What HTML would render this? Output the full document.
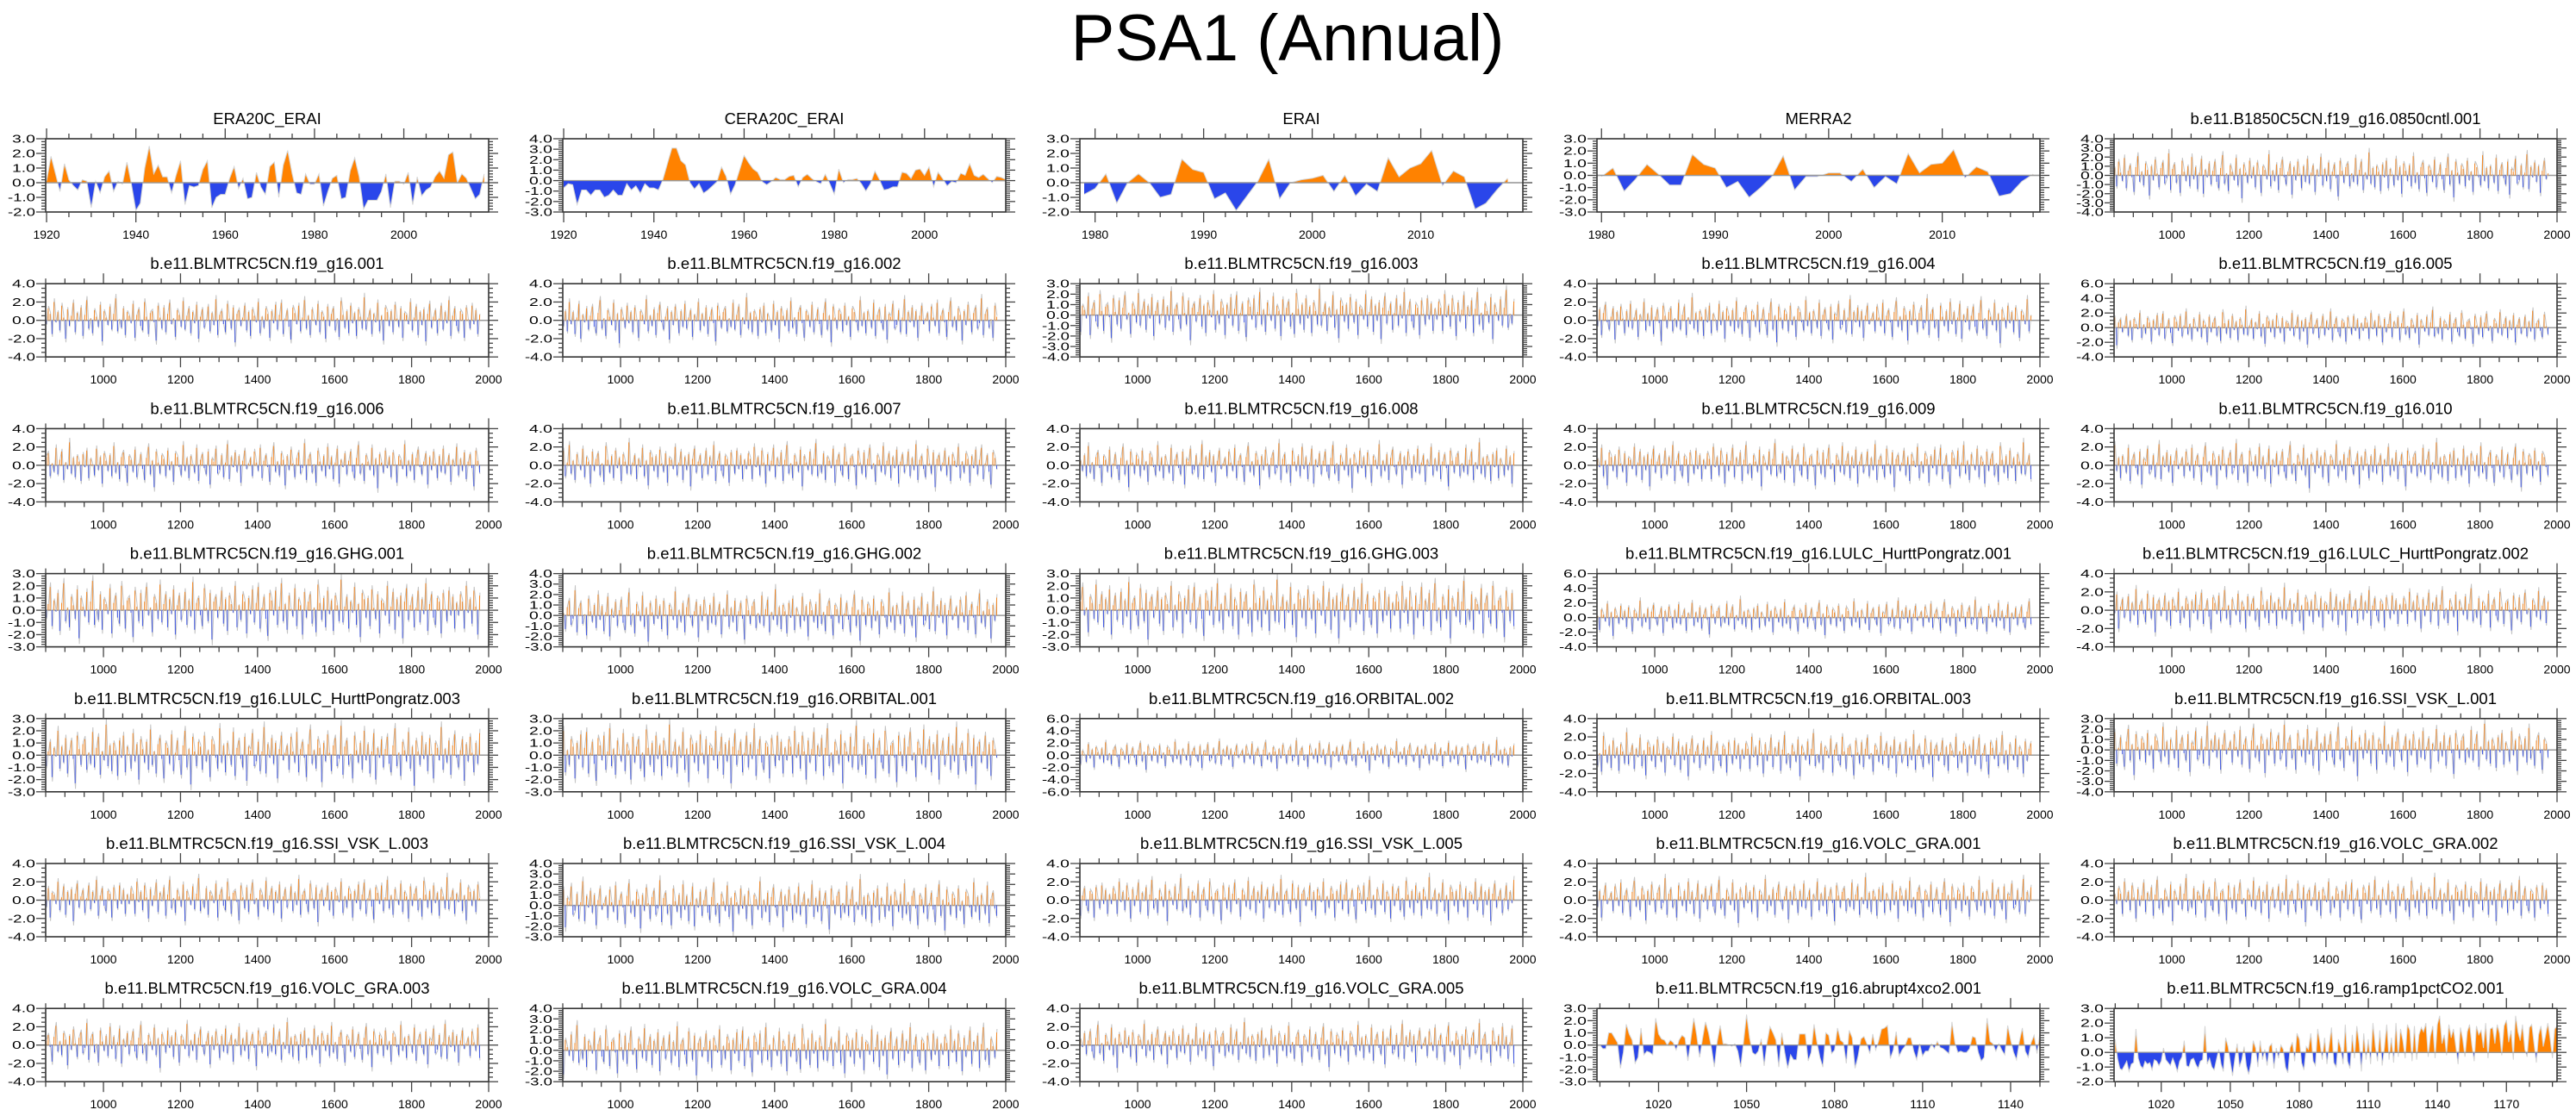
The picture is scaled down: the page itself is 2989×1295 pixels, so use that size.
<!DOCTYPE html>
<html><head><meta charset="utf-8"><title>PSA1 (Annual)</title>
<style>
html,body{margin:0;padding:0;background:#fff;}
svg{display:block;font-family:"Liberation Sans",Arial,sans-serif;}
</style></head>
<body>
<svg id="chart" width="2989" height="1295" viewBox="0 0 2989 1295" xmlns="http://www.w3.org/2000/svg">
<rect width="2989" height="1295" fill="#fff"/>
<text x="1494" y="70" font-size="76" text-anchor="middle" fill="#000">PSA1 (Annual)</text>
</svg>
<script>
// ---------- data ----------
const era20cValues=[0.1,1.8,0.6,-0.6,1.3,0.2,-0.2,-0.5,0.2,0.1,-1.7,0.1,-0.7,0.4,0.8,-0.6,0.1,-0.1,1.4,-0.1,-1.9,-1.4,1.0,2.5,0.6,1.2,0.4,0.4,-0.7,0.5,1.5,-1.5,-0.2,-0.3,-0.2,0.9,1.5,-1.7,-1.0,-0.8,-0.8,0.3,1.1,-0.4,0.3,-1.1,-1.0,0.7,-0.3,-0.8,1.1,1.4,-1.0,1.2,2.2,0.6,-0.7,-0.8,0.6,-0.1,-0.1,0.6,-1.6,-0.6,0.3,0.5,-1.1,-1.0,0.8,1.7,0.4,-1.8,-1.2,-1.2,-1.2,-0.6,0.6,-1.7,0.1,0.1,-0.1,0.7,-1.5,0.4,-0.9,-0.5,-0.3,0.4,0.8,0.3,1.9,2.1,0.0,0.6,0.3,-0.4,-1.1,-0.8,0.6];
const cera20cValues=[-0.7,-0.3,-0.4,-2.3,-0.9,-0.9,-1.4,-0.9,-0.9,-1.6,-1.4,-0.9,-1.4,-1.4,-0.3,-0.9,-0.5,-1.2,-0.3,-0.7,-0.7,-0.9,0.1,1.6,3.1,3.1,1.9,1.5,-0.2,-0.8,-0.3,-1.2,-0.9,-0.5,-0.1,1.3,0.4,-1.3,-0.4,1.0,2.4,1.7,1.1,0.8,-0.1,-0.4,-0.1,0.3,0.1,0.1,0.4,0.5,-0.6,0.3,0.6,0.2,-0.1,-0.3,0.6,-0.3,-1.3,1.1,-0.2,0.1,0.1,0.2,-0.3,-1.0,-0.3,0.9,0.1,-0.9,-0.8,-0.6,-0.6,0.8,0.7,0.2,1.0,1.1,0.5,1.3,-0.6,0.8,0.2,-0.5,-0.1,-0.2,0.7,0.5,1.6,0.5,0.3,0.6,0.2,-0.2,0.4,0.3,0.1];
const eraiValues=[-0.8,-0.4,0.6,-1.4,0.0,0.6,0.0,-1.0,-0.8,1.6,0.9,0.7,-1.1,-0.7,-1.9,-0.9,0.1,1.6,-1.1,0.0,0.2,0.3,0.5,-0.6,0.5,-0.9,-0.1,-0.6,1.7,0.4,1.0,1.3,2.2,-0.2,0.8,0.4,-1.8,-1.4,-0.5,0.3];
const merra2Values=[-0.1,0.6,-1.3,-0.3,0.9,0.1,-0.8,-0.8,1.7,0.9,0.6,-1.0,-0.5,-1.8,-1.0,-0.1,1.6,-1.2,-0.1,-0.1,0.2,0.2,-0.5,0.5,-1.0,-0.1,-0.7,1.8,0.2,0.9,1.0,2.1,-0.2,0.7,0.3,-1.7,-1.5,-0.5,0.1];
const abruptValues=[0.0,-0.3,-0.3,1.0,1.0,0.6,0.2,-1.9,-0.6,1.7,0.9,0.4,-1.5,-1.0,1.4,-0.8,-0.5,-0.6,-0.8,2.2,0.9,0.5,0.4,0.0,0.4,0.2,-0.4,0.4,0.8,0.6,-1.3,0.4,2.2,0.8,-1.0,0.5,1.9,1.0,-0.2,-1.8,0.3,1.6,0.1,0.1,0.0,-0.1,0.1,-0.5,-1.8,0.3,2.5,0.6,-0.6,-0.8,-0.5,0.5,-1.7,0.2,1.5,1.0,0.4,-1.8,1.0,-0.6,-1.9,-0.8,-1.2,-1.2,0.9,0.9,0.9,-1.3,-0.6,1.7,0.2,-1.0,-1.8,1.0,0.8,-0.7,-0.4,1.4,0.4,0.2,-1.5,1.2,0.6,-1.9,-0.9,0.5,0.7,0.1,-0.7,0.9,-0.4,0.3,1.3,1.4,1.6,-1.1,-0.4,1.1,-0.9,-0.4,-0.1,0.6,0.6,-0.5,-1.2,0.1,-0.9,-0.5,-0.5,0.1,-0.3,0.3,-0.2,-0.3,-0.5,-0.7,1.9,0.2,-0.6,-0.5,-0.6,-0.6,-0.3,0.7,0.6,-0.6,-1.3,-1.0,2.2,0.3,0.1,-0.5,0.1,-0.4,-0.8,1.6,0.4,-0.6,-1.2,0.3,1.4,-0.5,-1.0,0.2,0.8,-0.7,1.0];
const rampValues=[0.9,-0.4,-1.1,-1.2,-0.9,-0.6,-1.3,-0.8,-0.7,1.6,-0.4,-0.9,-1.1,-0.6,-0.8,-0.7,-1.2,-0.5,-0.6,-0.9,-0.6,0.3,-0.5,-0.7,-0.9,-0.4,-0.8,-1.3,-0.6,-0.3,0.8,-0.9,-1.0,-0.5,-0.4,-0.8,-1.1,-0.6,-0.5,1.8,-0.8,-0.4,-1.0,-1.2,-0.5,0.2,-0.8,-1.3,1.0,0.4,-0.6,-1.6,-0.4,0.6,-1.0,-0.5,0.4,-0.9,-1.5,-0.7,0.8,0.3,-1.0,0.8,-0.5,0.2,-0.9,0.4,0.6,-1.1,0.3,-0.4,0.5,0.2,-1.0,-1.4,0.3,0.7,-0.6,1.3,0.9,-0.7,-1.2,0.4,0.2,1.3,-0.6,-0.9,1.6,0.6,-0.5,1.0,-0.8,0.5,1.7,-0.7,-1.0,0.9,0.3,-0.8,1.9,-0.6,-1.1,1.2,-0.4,1.8,0.6,-1.3,1.3,-0.5,0.9,-0.8,2.0,0.4,-0.6,1.5,-0.9,0.3,1.9,-0.5,1.0,-0.7,2.0,-0.3,1.6,0.8,-0.4,1.9,1.5,-0.6,1.8,-0.5,1.2,1.7,1.4,2.0,-0.3,1.1,1.8,-0.4,1.9,2.5,0.6,1.2,-0.2,1.9,1.0,1.6,0.4,-0.8,1.7,0.9,-0.3,1.4,1.9,0.5,-0.6,1.8,1.2,1.5,0.3,2.0,-0.4,1.6,1.7,0.6,1.9,1.3,-0.2,1.8,2.2,0.7,1.5,-0.5,2.5,1.4,0.8,1.9,0.2,-0.3,1.7,1.9,0.6,-0.7,1.2,1.8,0.4,1.1,2.0,0.9,-0.4,1.6,1.8,0.5];
const denseA=[0.8,-1.2,1.5,0.3,-0.6,1.9,-1.4,0.5,1.1,-0.2,-1.8,0.9,2.1,-0.7,0.4,-1.1,1.3,0.6,-2.2,1.0,
-0.5,1.7,0.2,-1.3,0.8,1.4,-0.9,-0.3,2.4,-1.6,0.7,1.2,-0.8,0.1,-1.9,1.6,0.4,-0.6,1.0,-1.2,
2.0,-0.4,0.9,-1.5,0.3,1.8,-2.0,0.6,-0.2,1.3,-1.0,0.5,1.5,-0.7,-1.4,0.8,2.2,-0.9,0.2,-1.7,
1.1,0.4,-0.5,1.9,-1.1,0.7,-2.5,1.2,0.3,-0.8,1.6,-0.3,0.9,-1.3,1.4,0.1,-1.9,1.0,0.6,-0.4,
2.3,-1.2,0.5,-0.6,1.2,-1.6,0.8,1.7,-0.2,-1.0,0.4,1.3,-2.1,0.9,-0.5,1.5,0.2,-1.4,1.0,-0.7,
1.8,-0.9,0.3,1.1,-1.8,0.6,-0.1,2.0,-1.1,0.7,-0.6,1.4,-1.5,0.4,1.2,-0.3,-2.3,1.6,0.5,-0.8,
0.9,1.3,-1.2,0.2,-0.7,1.9,-1.0,0.6,1.5,-1.6,0.3,-0.4,2.5,-0.9,0.8,-1.3,1.0,0.4,-1.7,1.2,
-0.2,1.6,-1.4,0.7,0.1,-1.1,1.8,-0.5,0.9,-2.0,1.3,0.5,-0.6,1.1,-1.2,2.1,-0.8,0.3,-1.5,0.9,
1.4,-0.3,-1.9,1.0,0.6,-0.7,1.7,-1.3,0.2,1.2,-0.4,-1.6,0.8,2.0,-1.0,0.5,-2.4,1.5,0.3,-0.9,
1.1,0.7,-1.2,1.6,-0.5,0.4,-1.8,1.3,0.9,-0.2,-1.1,2.2,-0.6,0.8,-1.4,1.0,0.1,-0.8,1.9,-1.7,
0.6,1.2,-0.3,-1.0,1.5,-2.1,0.7,0.4,1.8,-0.9,-0.5,1.1,-1.3,0.3,2.3,-1.5,0.9,-0.2,1.4,-0.7,
1.0,-1.9,0.5,1.6,-0.4,0.2];
const denseB=[-0.4,1.3,0.7,-1.5,2.0,-0.2,0.9,-1.1,1.6,0.3,-2.0,1.2,-0.6,0.5,1.9,-1.3,0.8,-0.1,1.4,-1.7,
0.6,2.2,-0.9,0.2,-1.4,1.1,0.4,-0.7,1.7,-2.3,1.0,0.3,-0.5,1.5,-1.0,0.7,2.4,-1.2,0.1,-0.8,
1.3,-1.6,0.9,0.5,-0.3,1.8,-1.9,0.6,1.2,-0.6,-1.1,2.0,0.4,-1.5,0.8,1.0,-0.2,-2.2,1.6,0.3,
-0.9,1.4,-1.3,0.7,1.9,-0.4,0.2,-1.8,1.1,0.6,-0.7,2.1,-1.0,0.5,1.3,-1.4,0.9,-0.3,1.7,-2.0,
0.4,1.2,-0.8,0.1,1.5,-1.2,0.8,-0.5,2.3,-1.6,0.6,1.0,-0.4,-1.3,1.8,0.2,-0.9,1.4,-2.4,0.7,
1.1,-0.6,0.3,1.6,-1.1,0.9,-1.7,1.2,0.5,-0.2,2.0,-1.4,0.4,-0.8,1.3,0.7,-1.9,1.0,-0.3,1.7,
-1.0,0.6,1.9,-1.5,0.2,1.1,-0.7,-2.1,1.4,0.8,-0.4,1.6,-1.2,0.3,2.2,-0.9,0.5,-1.6,1.2,0.1,
-0.5,1.8,-1.3,0.9,0.4,-2.0,1.5,-0.6,0.7,1.3,-1.1,0.2,-1.8,2.1,0.6,-0.8,1.0,-1.4,1.6,-0.3,
0.8,-1.7,1.2,0.4,-0.9,2.5,-1.0,0.3,1.1,-1.5,0.7,-0.2,1.9,-1.2,0.5,-2.2,1.4,0.9,-0.6,1.0,
-1.3,1.7,0.2,-0.7,1.3,-1.9,0.8,0.6,-0.4,2.0,-1.1,0.3,1.5,-1.6,0.9,-0.5,1.2,-2.3,0.7,1.8,
-0.8,0.4,1.1,-1.4,0.2,1.6,-1.0,0.9,-0.3,2.2,-1.7,0.5,1.3,-0.6,-1.2,1.0,0.7,-1.9,1.4,0.1,
-0.9,1.6,-0.4,1.1,-1.5,0.6];
// tick labels
const era20cTicks=[1920,1940,1960,1980,2000];
const eraiTicks=[1980,1990,2000,2010];
const denseTicks=[1000,1200,1400,1600,1800,2000];
const abruptTicks=[1020,1050,1080,1110,1140];
const rampTicks=[1020,1050,1080,1110,1140,1170];

const P='b.e11.BLMTRC5CN.f19_g16.';
const panels=[
 {title:'ERA20C_ERAI',kind:'area',data:era20cValues,start:1920,xr:[1919.8,2019],ticks:era20cTicks,minor:5,yr:[-2,3,1]},
 {title:'CERA20C_ERAI',kind:'area',data:cera20cValues,start:1920,xr:[1919.8,2018],ticks:era20cTicks,minor:5,yr:[-3,4,1]},
 {title:'ERAI',kind:'area',data:eraiValues,start:1979,xr:[1978.6,2019.4],ticks:eraiTicks,minor:2,yr:[-2,3,1]},
 {title:'MERRA2',kind:'area',data:merra2Values,start:1980,xr:[1979.6,2018.6],ticks:eraiTicks,minor:2,yr:[-3,3,1]},
 {title:'b.e11.B1850C5CN.f19_g16.0850cntl.001',kind:'dense',data:denseA,shift:0,yr:[-4,4,1]},
 {title:P+'001',kind:'dense',data:denseB,shift:0,yr:[-4,4,2]},
 {title:P+'002',kind:'dense',data:denseA,shift:37,yr:[-4,4,2]},
 {title:P+'003',kind:'dense',data:denseB,shift:41,yr:[-4,3,1]},
 {title:P+'004',kind:'dense',data:denseA,shift:83,yr:[-4,4,2]},
 {title:P+'005',kind:'dense',data:denseB,shift:97,yr:[-4,6,2]},
 {title:P+'006',kind:'dense',data:denseA,shift:120,yr:[-4,4,2]},
 {title:P+'007',kind:'dense',data:denseB,shift:131,yr:[-4,4,2]},
 {title:P+'008',kind:'dense',data:denseA,shift:151,yr:[-4,4,2]},
 {title:P+'009',kind:'dense',data:denseB,shift:170,yr:[-4,4,2]},
 {title:P+'010',kind:'dense',data:denseA,shift:191,yr:[-4,4,2]},
 {title:P+'GHG.001',kind:'dense',data:denseB,shift:12,yr:[-3,3,1]},
 {title:P+'GHG.002',kind:'dense',data:denseA,shift:22,yr:[-3,4,1]},
 {title:P+'GHG.003',kind:'dense',data:denseB,shift:63,yr:[-3,3,1]},
 {title:P+'LULC_HurttPongratz.001',kind:'dense',data:denseA,shift:58,yr:[-4,6,2]},
 {title:P+'LULC_HurttPongratz.002',kind:'dense',data:denseB,shift:77,yr:[-4,4,2]},
 {title:P+'LULC_HurttPongratz.003',kind:'dense',data:denseA,shift:101,yr:[-3,3,1]},
 {title:P+'ORBITAL.001',kind:'dense',data:denseB,shift:110,yr:[-3,3,1]},
 {title:P+'ORBITAL.002',kind:'dense',data:denseA,shift:142,yr:[-6,6,2]},
 {title:P+'ORBITAL.003',kind:'dense',data:denseB,shift:150,yr:[-4,4,2]},
 {title:P+'SSI_VSK_L.001',kind:'dense',data:denseA,shift:166,yr:[-4,3,1]},
 {title:P+'SSI_VSK_L.003',kind:'dense',data:denseB,shift:183,yr:[-4,4,2]},
 {title:P+'SSI_VSK_L.004',kind:'dense',data:denseA,shift:204,yr:[-3,4,1]},
 {title:P+'SSI_VSK_L.005',kind:'dense',data:denseB,shift:210,yr:[-4,4,2]},
 {title:P+'VOLC_GRA.001',kind:'dense',data:denseA,shift:219,yr:[-4,4,2]},
 {title:P+'VOLC_GRA.002',kind:'dense',data:denseB,shift:225,yr:[-4,4,2]},
 {title:P+'VOLC_GRA.003',kind:'dense',data:denseA,shift:7,yr:[-4,4,2]},
 {title:P+'VOLC_GRA.004',kind:'dense',data:denseB,shift:29,yr:[-3,4,1]},
 {title:P+'VOLC_GRA.005',kind:'dense',data:denseA,shift:47,yr:[-4,4,2]},
 {title:P+'abrupt4xco2.001',kind:'area',data:abruptValues,start:1000,xr:[999,1150],ticks:abruptTicks,minor:10,yr:[-3,3,1]},
 {title:P+'ramp1pctCO2.001',kind:'area',data:rampValues,start:1000,xr:[999.5,1192],ticks:rampTicks,minor:10,yr:[-2,3,1]}
];

// ---------- drawing ----------
const NS='http://www.w3.org/2000/svg';
const svg=document.getElementById('chart');
function mk(tag,attrs,parent){const e=document.createElementNS(NS,tag);for(const k in attrs)e.setAttribute(k,attrs[k]);(parent||svg).appendChild(e);return e;}
const W=514,H=85,ORANGE='#ff8200',BLUE='#2a46ea';

panels.forEach((p,idx)=>{
  const c=idx%5,r=Math.floor(idx/5);
  const L=53+600*c,T=161+168.2*r,R=L+W,B=T+H;
  const g=mk('g',{});
  
  
  const dense=p.kind==='dense';
  const xr=dense?[850,2000]:p.xr;
  const ticks=dense?denseTicks:p.ticks;
  const minor=dense?50:p.minor;
  const [y0,y1,ys]=p.yr;
  const X=v=>L+(v-xr[0])/(xr[1]-xr[0])*W;
  const Y=v=>B-(v-y0)/(y1-y0)*H;
  const cid='clip'+idx;
  const defs=mk('defs',{},g);
  const cp=mk('clipPath',{id:cid},defs); mk('rect',{x:L,y:T,width:W,height:H},cp);
  const cpU=mk('clipPath',{id:cid+'u'},defs); mk('rect',{x:L,y:T,width:W,height:Y(0)-T},cpU);
  const cpD=mk('clipPath',{id:cid+'d'},defs); mk('rect',{x:L,y:Y(0),width:W,height:B-Y(0)},cpD);
  const t=mk('text',{x:L+W/2,y:T-17,'font-size':18.5,'text-anchor':'middle',fill:'#000'},g);
  t.textContent=p.title;
  
  
  const plot=mk('g',{'clip-path':'url(#'+cid+')'},g);
  
  
  mk('line',{x1:L,x2:R,y1:Y(0),y2:Y(0),stroke:'#9a9a9a','stroke-width':1.5},plot);
  if(!dense){
    const pts=p.data.map((v,i)=>[X(p.start+i),Y(v)]);
    let d='M'+pts[0][0].toFixed(1)+','+Y(0).toFixed(1);
    pts.forEach(q=>{d+='L'+q[0].toFixed(1)+','+q[1].toFixed(1);});
    d+='L'+pts[pts.length-1][0].toFixed(1)+','+Y(0).toFixed(1)+'Z';
    const up=mk('path',{d:d,fill:ORANGE,'clip-path':'url(#'+cid+'u)'},plot);
    
    
    const dn=mk('path',{d:d,fill:BLUE,'clip-path':'url(#'+cid+'d)'},plot);
    
    
    const ln=mk('polyline',{points:pts.map(q=>q[0].toFixed(1)+','+q[1].toFixed(1)).join(' '),fill:'none',stroke:'#d4d4d4','stroke-width':1},plot);
    
    
    mk('line',{x1:L,x2:R,y1:Y(0),y2:Y(0),stroke:'#9a9a9a','stroke-width':1.2},plot);
  } else {
    const n=p.data.length;
    const vals=[];for(let i=0;i<n;i++)vals.push(p.data[(i+p.shift)%n]);
    const pts=vals.map((v,i)=>[X(852.5+5*i),Y(v*1.2)]);
    const ln=mk('polyline',{points:pts.map(q=>q[0].toFixed(1)+','+q[1].toFixed(1)).join(' '),fill:'none',stroke:'#c4c4c4','stroke-width':1},plot);
    
    
    vals.forEach((v,i)=>{
      const b=mk('line',{x1:X(851.5+5*i),x2:X(851.5+5*i),y1:Y(0),y2:Y(v),stroke:v>=0?'#f28a2a':'#3f57e2','stroke-width':1.0},plot);
      
      
    });
  }
  mk('rect',{x:L,y:T,width:W,height:H,fill:'none',stroke:'#333','stroke-width':1.6},g);
  const tg=mk('g',{stroke:'#444','stroke-width':1.3},g);
  for(let v=Math.ceil(xr[0]/minor)*minor;v<=xr[1];v+=minor){
    const x=X(v);const major=ticks.indexOf(v)>=0||(dense&&v%200===0);
    const len=major?12:6;
    mk('line',{x1:x,x2:x,y1:T,y2:T-len},tg);mk('line',{x1:x,x2:x,y1:B,y2:B+len},tg);
  }
  ticks.forEach(v=>{
    const lb=mk('text',{x:X(v),y:B+31,'font-size':14,'text-anchor':'middle',fill:'#000'},g);
    lb.textContent=String(v);
    
    
  });
  const ms=ys===1?0.2:0.5;
  for(let k=0;k<=Math.round((y1-y0)/ms);k++){
    const v=y0+k*ms;const y=Y(v);
    const major=Math.abs(v/ys-Math.round(v/ys))<1e-6;
    const len=major?11:5;
    mk('line',{x1:L,x2:L-len,y1:y,y2:y},tg);mk('line',{x1:R,x2:R+len,y1:y,y2:y},tg);
  }
  for(let v=y0;v<=y1+1e-6;v+=ys){
    const s=v.toFixed(1);
    const lb=mk('text',{x:L-12,y:Y(v)+4.5,'font-size':12.5,'text-anchor':'end',fill:'#000',textLength:s.length>3?32:27,lengthAdjust:'spacingAndGlyphs'},g);
    lb.textContent=s;
    
    
  }
});
</script>
</body></html>
